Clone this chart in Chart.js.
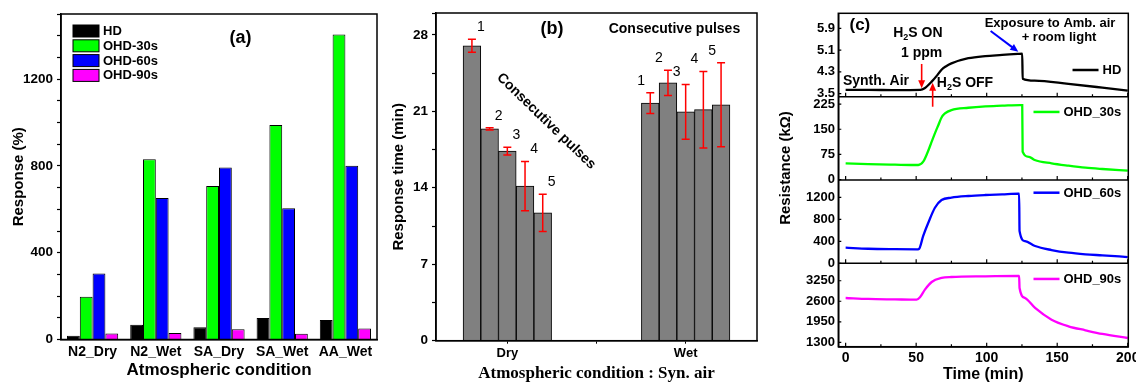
<!DOCTYPE html>
<html>
<head>
<meta charset="utf-8">
<script src="https://cdn.jsdelivr.net/npm/chart.js@4.4.0/dist/chart.umd.min.js"></script>
<style>
  html, body { margin: 0; padding: 0; background: #fff; }
  body { width: 1136px; height: 385px; position: relative; overflow: hidden; }
  .panel { position: absolute; top: 0; }
  #pa { left: 0; }
  #pb { left: 380px; }
  #pc { left: 770px; }
</style>
</head>
<body>
<div class="panel" id="pa"><canvas id="chartA" width="380" height="385"></canvas></div>
<div class="panel" id="pb"><canvas id="chartB" width="380" height="385"></canvas></div>
<div class="panel" id="pc"><canvas id="chartC" width="366" height="385"></canvas></div>
<script>
// ---- (a) response in each atmosphere
var conditions = ['N2_Dry', 'N2_Wet', 'SA_Dry', 'SA_Wet', 'AA_Wet'];
var respHD  = [17, 68, 57, 99, 90];
var resp30s = [197, 831, 707, 989, 1406];
var resp60s = [304, 652, 793, 605, 801];
var resp90s = [28, 30, 47, 27, 51];
var respTicks = [0, 400, 800, 1200];

// ---- (b) response time, consecutive pulses
var airStates = ['Dry', 'Wet'];
var pulseNames = ['1', '2', '3', '4', '5'];
var dryTime = [27.0, 19.4, 17.35, 14.15, 11.7];
var dryErr  = [0.6, 0.1, 0.35, 2.25, 1.7];
var wetTime = [21.75, 23.6, 20.95, 21.15, 21.6];
var wetErr  = [0.95, 1.15, 2.5, 3.5, 3.85];
var timeTicks = [0, 7, 14, 21, 28];

// ---- (c) resistance transients (time in min)
var hdT  = [0, 16, 35, 53, 56, 61, 65, 68, 71, 75, 87, 99, 111, 122, 125.2, 125.5, 134, 158, 182, 200];
var hdR  = [3.64, 3.64, 3.63, 3.64, 3.70, 3.94, 4.18, 4.38, 4.50, 4.61, 4.80, 4.88, 4.92, 4.96, 4.97, 4.05, 3.98, 3.86, 3.72, 3.61];
var o30T = [0, 16, 35, 51.5, 55, 58, 61, 63.5, 65.7, 68, 70.4, 75, 87, 99, 111, 123.6, 125.2, 125.5, 130, 134, 146, 158, 170, 182, 200];
var o30R = [48.5, 46, 44.5, 43.6, 53.5, 80, 113, 140, 162, 185, 197, 207, 214, 218, 220, 222, 222, 83, 68, 58.5, 48.5, 41.6, 35.7, 31.7, 26.7];
var o60T = [0, 16, 35, 50.3, 52, 55, 58.6, 63.3, 68, 75, 87, 99, 111, 122.5, 123, 123.3, 127.2, 134.3, 146, 158, 170, 182, 200];
var o60R = [284, 265, 257, 254, 262, 500, 738, 1011, 1151, 1193, 1224, 1242, 1254, 1266, 1266, 587, 405, 315, 242, 193, 164, 145, 115];
var o90T = [0, 16, 35, 50.3, 52.7, 56.2, 61, 68, 75, 99, 122.5, 123, 123.3, 127.2, 134.3, 146, 158, 170, 182, 200];
var o90R = [2704, 2673, 2660, 2651, 2727, 2968, 3211, 3338, 3370, 3392, 3402, 3402, 3021, 2704, 2387, 2016, 1807, 1680, 1563, 1436];
var minuteTicks = [0, 25, 50, 75, 100, 125, 150, 175, 200];
var hdTicks  = [3.5, 4.3, 5.1, 5.9];
var r30Ticks = [0, 75, 150, 225];
var r60Ticks = [0, 400, 800, 1200];
var r90Ticks = [1300, 1950, 2600, 3250];

var FONT = '"Liberation Sans", Arial, sans-serif';
Chart.defaults.font.family = FONT;
Chart.defaults.color = '#000';

function fixWidth(w){
    return function(scale){
        scale.width = w;
        scale.paddingTop = 0;
        scale.paddingBottom = 0;
    };
}
function fixHeight(h){
    return function(scale){
        scale.height = h;
        scale.paddingLeft = 0;
        scale.paddingRight = 0;
    };
}
function setTicks(list){
    return function(scale){
        scale.ticks = list.map(function(v){ return {value: v}; });
    };
}

var frame = {
    id: 'frame',
    afterDraw: function(chart){
        var a = chart.chartArea, ctx = chart.ctx;
        ctx.save();
        ctx.strokeStyle = '#000';
        ctx.lineWidth = 1.5;
        ctx.strokeRect(a.left, a.top, a.right - a.left, a.bottom - a.top);
        ctx.restore();
    }
};

function arrow(ctx, x1, y1, x2, y2, color, lw){
    var ang = Math.atan2(y2 - y1, x2 - x1);
    ctx.save();
    ctx.strokeStyle = color;
    ctx.fillStyle = color;
    ctx.lineWidth = lw;
    ctx.beginPath();
    ctx.moveTo(x1, y1);
    ctx.lineTo(x2 - 6 * Math.cos(ang), y2 - 6 * Math.sin(ang));
    ctx.stroke();
    ctx.beginPath();
    ctx.moveTo(x2, y2);
    ctx.lineTo(x2 - 8 * Math.cos(ang) + 3.5 * Math.sin(ang), y2 - 8 * Math.sin(ang) - 3.5 * Math.cos(ang));
    ctx.lineTo(x2 - 8 * Math.cos(ang) - 3.5 * Math.sin(ang), y2 - 8 * Math.sin(ang) + 3.5 * Math.cos(ang));
    ctx.closePath();
    ctx.fill();
    ctx.restore();
}

// text with subscript pieces, centred on cx
function subText(ctx, pieces, cx, cy, size){
    var big = 'bold ' + size + 'px ' + FONT;
    var small = 'bold ' + Math.round(size * 0.62) + 'px ' + FONT;
    var w = 0;
    pieces.forEach(function(p){
        ctx.font = p[1] ? small : big;
        w += ctx.measureText(p[0]).width;
    });
    var x = cx - w / 2;
    ctx.textAlign = 'left';
    ctx.textBaseline = 'middle';
    pieces.forEach(function(p){
        ctx.font = p[1] ? small : big;
        ctx.fillText(p[0], x, p[1] ? cy + size * 0.3 : cy);
        x += ctx.measureText(p[0]).width;
    });
}

// ================= (a)
var colorsA = ['#000000', '#00ff00', '#0000ff', '#ff00ff'];
var namesA = ['HD', 'OHD-30s', 'OHD-60s', 'OHD-90s'];
var seriesA = [respHD, resp30s, resp60s, resp90s];

var legendA = {
    id: 'legendA',
    afterDraw: function(chart){
        var ctx = chart.ctx, a = chart.chartArea;
        ctx.save();
        ctx.font = 'bold 13px ' + FONT;
        ctx.textBaseline = 'middle';
        chart.data.datasets.forEach(function(ds, i){
            var y = a.top + 17 + i * 14.8;
            ctx.fillStyle = ds.backgroundColor;
            ctx.fillRect(a.left + 12, y - 6, 26, 12);
            ctx.strokeStyle = '#000';
            ctx.lineWidth = 1;
            ctx.strokeRect(a.left + 12, y - 6, 26, 12);
            ctx.fillStyle = '#000';
            ctx.fillText(ds.label, a.left + 42, y + 0.5);
        });
        ctx.font = 'bold 18px ' + FONT;
        ctx.textAlign = 'center';
        ctx.fillText('(a)', chart.scales.x.getPixelForValue(2.34), chart.scales.y.getPixelForValue(1390));
        ctx.restore();
    }
};

new Chart(document.getElementById('chartA'), {
    type: 'bar',
    data: {
        labels: conditions,
        datasets: seriesA.map(function(d, i){
            return {
                label: namesA[i],
                data: d,
                backgroundColor: colorsA[i],
                borderColor: '#000',
                borderWidth: 1,
                categoryPercentage: 0.81,
                barPercentage: 1
            };
        })
    },
    options: {
        responsive: false,
        animation: false,
        layout: {padding: {top: 14, right: 3, left: 0, bottom: 0}},
        plugins: {legend: {display: false}, tooltip: {enabled: false}},
        scales: {
            x: {
                grid: {display: false, drawTicks: false},
                border: {color: '#000', width: 1.5},
                ticks: {font: {weight: 'bold', size: 14}, padding: 4},
                title: {display: true, text: 'Atmospheric condition', font: {weight: 'bold', size: 17}, padding: {top: 0, bottom: 4}},
                afterFit: fixHeight(45.5)
            },
            y: {
                min: 0,
                max: 1500,
                grid: {display: true, drawOnChartArea: false, tickLength: 4, tickColor: '#000', tickWidth: 1.2},
                border: {color: '#000', width: 1.5},
                ticks: {
                    stepSize: 100,
                    autoSkip: false,
                    padding: 4,
                    font: {weight: 'bold', size: 13.5},
                    callback: function(v){ return respTicks.indexOf(v) >= 0 ? String(v) : ''; }
                },
                title: {display: true, text: 'Response (%)', font: {weight: 'bold', size: 15}, padding: {top: 10, bottom: 0}},
                afterFit: fixWidth(61)
            }
        }
    },
    plugins: [frame, legendA]
});

// ================= (b)
var labelShift = [9, -9];
var barsB = {
    id: 'barsB',
    afterDatasetsDraw: function(chart){
        var ctx = chart.ctx, ys = chart.scales.y, xs = chart.scales.x;
        ctx.save();
        chart.data.datasets.forEach(function(ds, i){
            var meta = chart.getDatasetMeta(i);
            meta.data.forEach(function(el, j){
                var v = ds.data[j].y, e = ds.err[j];
                var yt = ys.getPixelForValue(v + e), yb = ys.getPixelForValue(v - e);
                ctx.strokeStyle = '#ff0000';
                ctx.lineWidth = 1.5;
                ctx.beginPath();
                ctx.moveTo(el.x, yt); ctx.lineTo(el.x, yb);
                ctx.moveTo(el.x - 4, yt); ctx.lineTo(el.x + 4, yt);
                ctx.moveTo(el.x - 4, yb); ctx.lineTo(el.x + 4, yb);
                ctx.stroke();
                ctx.fillStyle = '#000';
                ctx.font = '14px ' + FONT;
                ctx.textAlign = 'center';
                ctx.textBaseline = 'middle';
                ctx.fillText(pulseNames[i], el.x + labelShift[j], yt - 12);
            });
        });
        ctx.fillStyle = '#000';
        ctx.textAlign = 'center';
        ctx.textBaseline = 'middle';
        ctx.font = 'bold 18px ' + FONT;
        ctx.fillText('(b)', xs.getPixelForValue(1.25), ys.getPixelForValue(28.5));
        ctx.font = 'bold 14px ' + FONT;
        ctx.fillText('Consecutive pulses', xs.getPixelForValue(1.937), ys.getPixelForValue(28.5));
        ctx.translate(xs.getPixelForValue(1.218), ys.getPixelForValue(20.1));
        ctx.rotate(44 * Math.PI / 180);
        ctx.fillText('Consecutive pulses', 0, 0);
        ctx.restore();
    }
};

new Chart(document.getElementById('chartB'), {
    type: 'bar',
    data: {
        datasets: pulseNames.map(function(p, i){
            return {
                label: 'Pulse ' + p,
                data: [{x: 1, y: dryTime[i]}, {x: 2, y: wetTime[i]}],
                err: [dryErr[i], wetErr[i]],
                backgroundColor: '#808080',
                borderColor: '#000',
                borderWidth: 1,
                barThickness: 17.7
            };
        })
    },
    options: {
        responsive: false,
        animation: false,
        layout: {padding: {top: 13, right: 3, left: 0, bottom: 0}},
        plugins: {legend: {display: false}, tooltip: {enabled: false}},
        scales: {
            x: {
                type: 'linear',
                min: 0.6,
                max: 2.4,
                offset: false,
                grid: {display: true, offset: false, drawOnChartArea: false, tickLength: 3, tickColor: '#000'},
                border: {color: '#000', width: 1.5},
                afterBuildTicks: setTicks([1, 1.5, 2]),
                ticks: {
                    font: {weight: 'bold', size: 13},
                    padding: 2,
                    callback: function(v){ return airStates[v - 1] || ''; }
                },
                title: {display: true, text: 'Atmospheric condition : Syn. air',
                        font: {family: '"Liberation Serif", "Times New Roman", serif', weight: 'bold', size: 17},
                        padding: {top: 0, bottom: 1.5}},
                afterFit: fixHeight(44.3)
            },
            y: {
                min: 0,
                max: 30,
                grid: {display: true, drawOnChartArea: false, tickLength: 4, tickColor: '#000', tickWidth: 1.2},
                border: {color: '#000', width: 1.5},
                ticks: {
                    stepSize: 3.5,
                    autoSkip: false,
                    padding: 4,
                    font: {weight: 'bold', size: 13.5},
                    callback: function(v){ return timeTicks.indexOf(v) >= 0 ? String(v) : ''; }
                },
                title: {display: true, text: 'Response time (min)', font: {weight: 'bold', size: 15}, padding: {top: 10, bottom: 0}},
                afterFit: fixWidth(56)
            }
        }
    },
    plugins: [frame, barsB]
});

// ================= (c)
function pairs(ts, vs){
    return ts.map(function(t, i){ return {x: t, y: vs[i]}; });
}
var axesC = ['yHD', 'y30', 'y60', 'y90'];
var namesC = ['HD', 'OHD_30s', 'OHD_60s', 'OHD_90s'];
var colorsC = ['#000000', '#00ff00', '#0000ff', '#ff00ff'];
var legendDy = [56.7, 15.3, 12.7, 15.6];

function yAxisC(range, ticks, fmt){
    return {
        type: 'linear',
        position: 'left',
        stack: 'res',
        stackWeight: 1,
        min: range[0],
        max: range[1],
        grid: {display: false, drawTicks: false},
        border: {color: '#000', width: 1.5},
        afterBuildTicks: setTicks(ticks),
        ticks: {autoSkip: false, padding: 3.3, font: {weight: 'bold', size: 13}, callback: fmt},
        afterFit: fixWidth(68.3)
    };
}

var decorC = {
    id: 'decorC',
    afterDraw: function(chart){
        var ctx = chart.ctx, a = chart.chartArea, xs = chart.scales.x;
        ctx.save();
        ctx.strokeStyle = '#000';
        // separators and inward ticks
        axesC.forEach(function(id){
            var s = chart.scales[id];
            ctx.strokeStyle = '#000';
            ctx.lineWidth = 1.5;
            ctx.beginPath();
            ctx.moveTo(a.left, s.bottom); ctx.lineTo(a.right, s.bottom);
            ctx.stroke();
            ctx.lineWidth = 1.2;
            ctx.beginPath();
            s.ticks.forEach(function(t){
                var y = s.getPixelForValue(t.value);
                ctx.moveTo(a.left, y); ctx.lineTo(a.left + 3, y);
            });
            xs.ticks.forEach(function(t){
                var x = xs.getPixelForValue(t.value);
                var len = t.value % 50 === 0 ? 4 : 2.5;
                ctx.moveTo(x, s.bottom); ctx.lineTo(x, s.bottom - len);
            });
            ctx.stroke();
        });
        // legends
        ctx.font = 'bold 13px ' + FONT;
        ctx.textBaseline = 'middle';
        ctx.textAlign = 'right';
        axesC.forEach(function(id, i){
            var s = chart.scales[id];
            var y = s.top + legendDy[i];
            var xr = a.right - 7;
            var w = ctx.measureText(namesC[i]).width;
            ctx.fillStyle = '#000';
            ctx.fillText(namesC[i], xr, y + 0.5);
            ctx.strokeStyle = colorsC[i];
            ctx.lineWidth = 2.5;
            ctx.beginPath();
            ctx.moveTo(xr - w - 30, y); ctx.lineTo(xr - w - 4, y);
            ctx.stroke();
        });
        // annotations placed in HD panel coordinates
        var ys = chart.scales.yHD;
        function px(t){ return xs.getPixelForValue(t); }
        function py(v){ return ys.getPixelForValue(v); }
        ctx.fillStyle = '#000';
        ctx.textAlign = 'center';
        ctx.font = 'bold 17px ' + FONT;
        ctx.fillText('(c)', px(10.1), py(6.02));
        subText(ctx, [['H', false], ['2', true], ['S ON', false]], px(51.2), py(5.73), 14);
        ctx.textAlign = 'center';
        ctx.font = 'bold 14px ' + FONT;
        ctx.fillText('1 ppm', px(53.9), py(4.99));
        ctx.fillText('Synth. Air', px(21.5), py(3.97));
        subText(ctx, [['H', false], ['2', true], ['S OFF', false]], px(84.6), py(3.89), 14);
        ctx.textAlign = 'center';
        ctx.font = 'bold 13px ' + FONT;
        ctx.fillText('Exposure to Amb. air', px(144.9), py(6.09));
        ctx.fillText('+ room light', px(151.3), py(5.55));
        arrow(ctx, px(53.9), py(4.59), px(53.9), py(3.70), '#ff0000', 1.6);
        arrow(ctx, px(61.7), py(3.02), px(61.7), py(3.90), '#ff0000', 1.6);
        arrow(ctx, px(102.8), py(5.80), px(122.4), py(5.04), '#0000ff', 2);
        // shared y title
        ctx.translate(15.5, (a.top + a.bottom) / 2 - 12);
        ctx.rotate(-Math.PI / 2);
        ctx.font = 'bold 15px ' + FONT;
        ctx.fillText('Resistance (k\u03a9)', 0, 0);
        ctx.restore();
    }
};

var seriesC = [pairs(hdT, hdR), pairs(o30T, o30R), pairs(o60T, o60R), pairs(o90T, o90R)];
var intFmt = function(v){ return String(v); };

new Chart(document.getElementById('chartC'), {
    type: 'line',
    data: {
        datasets: seriesC.map(function(d, i){
            return {
                label: namesC[i],
                data: d,
                yAxisID: axesC[i],
                borderColor: colorsC[i],
                borderWidth: 2.3,
                pointRadius: 0,
                cubicInterpolationMode: 'monotone',
                fill: false
            };
        })
    },
    options: {
        responsive: false,
        animation: false,
        layout: {padding: {top: 13.3, right: 7.7, left: 0, bottom: 0}},
        plugins: {legend: {display: false}, tooltip: {enabled: false}},
        scales: {
            x: {
                type: 'linear',
                min: -5.2,
                max: 200.4,
                grid: {display: false, drawTicks: false},
                border: {color: '#000', width: 1.5},
                afterBuildTicks: setTicks(minuteTicks),
                ticks: {
                    autoSkip: false,
                    maxRotation: 0,
                    padding: 3.2,
                    font: {weight: 'bold', size: 14},
                    callback: function(v){ return v % 50 === 0 ? String(v) : ''; }
                },
                title: {display: true, text: 'Time (min)', font: {weight: 'bold', size: 16}, padding: {top: 0, bottom: 0.4}},
                afterFit: fixHeight(38.3)
            },
            y90: yAxisC([1160, 3802], r90Ticks, intFmt),
            y60: yAxisC([0, 1515], r60Ticks, intFmt),
            y30: yAxisC([-1, 247], r30Ticks, intFmt),
            yHD: yAxisC([3.39, 6.45], hdTicks, function(v){ return v.toFixed(1); })
        }
    },
    plugins: [frame, decorC]
});
</script>
</body>
</html>
